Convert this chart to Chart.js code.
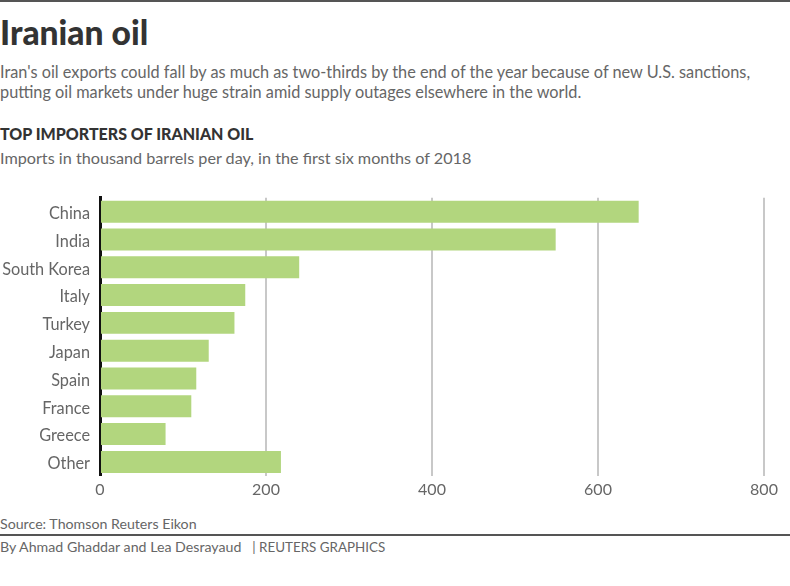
<!DOCTYPE html>
<html>
<head>
<meta charset="utf-8">
<title>Iranian oil</title>
<script src="https://cdn.jsdelivr.net/npm/chart.js@4/dist/chart.umd.min.js"></script>
<style>
    html, body { margin: 0; padding: 0; background: #fff; }
    body { position: relative; width: 790px; height: 586px; overflow: hidden; font-family: Lato, sans-serif; color: #666; }
    .rule { position: absolute; left: 0; width: 790px; background: #555; }
    .txt { position: absolute; left: 0; white-space: nowrap; }
    #title { top: 13px; font-size: 33.6px; line-height: 38px; font-weight: 900; color: #333; }
    .sub { font-size: 16.3px; line-height: 20px; }
    #subhead { top: 125px; font-size: 16px; line-height: 18px; font-weight: 900; color: #333; }
    #wrap { position: absolute; left: 0; top: 178px; width: 790px; height: 325px; }
    .foot { font-size: 14.2px; line-height: 16px; }
</style>
</head>
<body>
<div class="rule" style="top:0;height:2px"></div>
<div class="txt" id="title">Iranian oil</div>
<div class="txt sub" style="top:62px">Iran's oil exports could fall by as much as two-thirds by the end of the year because of new U.S. sanctions,</div>
<div class="txt sub" style="top:82px">putting oil markets under huge strain amid supply outages elsewhere in the world.</div>
<div class="txt" id="subhead">TOP IMPORTERS OF IRANIAN OIL</div>
<div class="txt sub" style="top:148px;font-size:16.2px">Imports in thousand barrels per day, in the first six months of 2018</div>
<div id="wrap"><canvas id="oilChart" width="790" height="325"></canvas></div>
<div class="txt foot" style="top:516px">Source: Thomson Reuters Eikon</div>
<div class="rule" style="top:534px;height:2px"></div>
<div class="txt foot" style="top:539px">By Ahmad Ghaddar and Lea Desrayaud &nbsp; <span style="font-size:13.4px">| REUTERS GRAPHICS</span></div>
<script>
const countries = ['China', 'India', 'South Korea', 'Italy', 'Turkey', 'Japan', 'Spain', 'France', 'Greece', 'Other'];
const imports = [649, 549, 240, 175, 162, 131, 116, 110, 79, 218];
const xTicks = [0, 200, 400, 600, 800];

window.addEventListener('DOMContentLoaded', function() {
    const ctx = document.getElementById('oilChart').getContext('2d');
    new Chart(ctx, {
        type: 'bar',
        data: {
            labels: countries,
            datasets: [{
                data: imports,
                backgroundColor: '#b2d67e',
                barPercentage: 0.79,
                categoryPercentage: 1
            }]
        },
        options: {
            indexAxis: 'y',
            responsive: false,
            animation: false,
            layout: { padding: { top: 7, right: 26, bottom: 0, left: 0 } },
            plugins: { legend: { display: false }, tooltip: { enabled: false } },
            scales: {
                x: {
                    min: xTicks[0],
                    max: xTicks[xTicks.length - 1],
                    afterBuildTicks: function(axis) {
                        axis.ticks = xTicks.map(function(v) { return { value: v }; });
                    },
                    grid: { color: '#c8c8c8', lineWidth: 2, drawTicks: false },
                    border: { display: false },
                    ticks: { color: '#666', font: { family: 'Lato', size: 16 }, padding: 4, maxRotation: 0 }
                },
                y: {
                    afterFit: function(axis) { axis.width = 100; },
                    grid: { display: false, drawTicks: false },
                    border: { color: '#111', width: 3 },
                    ticks: { color: '#666', font: { family: 'Lato', size: 16.3 }, padding: 10, labelOffset: 2 }
                }
            }
        }
    });
});
</script>
</body>
</html>
